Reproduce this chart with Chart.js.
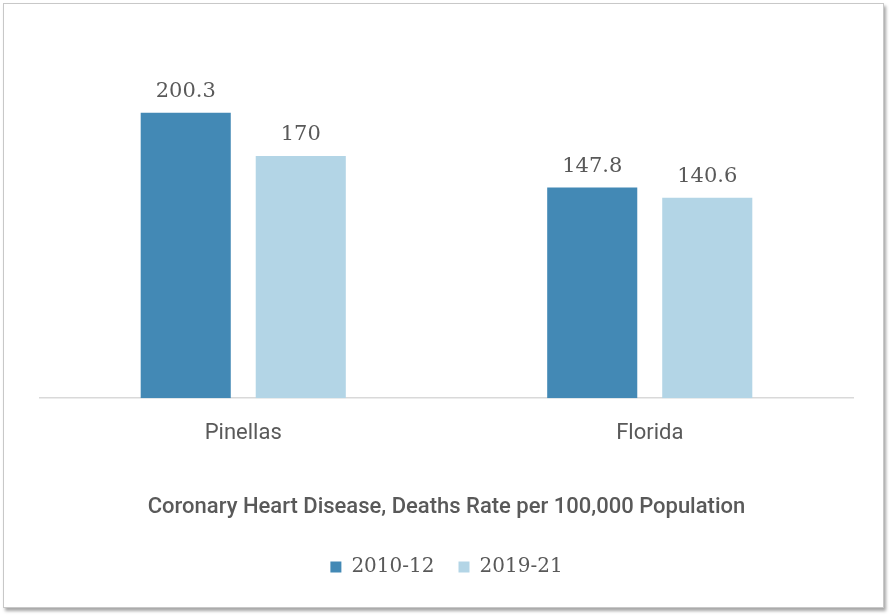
<!DOCTYPE html>
<html>
<head>
<meta charset="utf-8">
<script src="https://cdn.jsdelivr.net/npm/chart.js@4"></script>
<style>
    body { margin: 0; background: #ffffff; }
    .frame {
        position: absolute; left: 3px; top: 3px; width: 879px; height: 603px;
        border: 1px solid #c8c8c8;
        box-shadow: 2px 3px 3px rgba(0,0,0,0.35);
        background: #fff;
    }
    .frame canvas { display: block; }
</style>
</head>
<body>
<div class="frame"><canvas id="heartChart" width="879" height="603"></canvas></div>
<script>
const categories = ['Pinellas', 'Florida'];
const seriesNames = ['2010-12', '2019-21'];
const values2010 = [200.3, 147.8];
const values2019 = [170, 140.6];
const valueLabels2010 = ['200.3', '147.8'];
const valueLabels2019 = ['170', '140.6'];
const chartTitle = 'Coronary Heart Disease, Deaths Rate per 100,000 Population';

// draws the numbers above each bar
const barValues = {
    id: 'barValues',
    afterDatasetsDraw(chart) {
        const ctx = chart.ctx;
        const labelSets = [valueLabels2010, valueLabels2019];
        ctx.save();
        ctx.font = '21px "DejaVu Serif", serif';
        ctx.fillStyle = '#595959';
        ctx.textAlign = 'center';
        ctx.textBaseline = 'alphabetic';
        chart.data.datasets.forEach((ds, i) => {
            chart.getDatasetMeta(i).data.forEach((bar, j) => {
                ctx.fillText(labelSets[i][j], bar.x, bar.y - 16);
            });
        });
        ctx.restore();
    }
};

const ctx = document.getElementById('heartChart').getContext('2d');
new Chart(ctx, {
    type: 'bar',
    data: {
        labels: categories,
        datasets: [
            {
                label: seriesNames[0],
                data: values2010,
                backgroundColor: '#4389b5',
                categoryPercentage: 0.566,
                barPercentage: 0.783
            },
            {
                label: seriesNames[1],
                data: values2019,
                backgroundColor: '#b3d5e6',
                categoryPercentage: 0.566,
                barPercentage: 0.783
            }
        ]
    },
    options: {
        responsive: false,
        animation: false,
        layout: { padding: { left: 36, right: 30, top: 38, bottom: 20 } },
        plugins: {
            legend: {
                position: 'bottom',
                labels: {
                    boxWidth: 11,
                    boxHeight: 11,
                    padding: 24,
                    color: '#595959',
                    font: { family: '"DejaVu Serif", serif', size: 20 }
                }
            },
            tooltip: { enabled: false }
        },
        scales: {
            x: {
                grid: { display: false },
                border: { color: '#d9d9d9', width: 1.5 },
                ticks: {
                    color: '#595959',
                    padding: 14,
                    font: { family: 'Roboto', size: 22 }
                },
                title: {
                    display: true,
                    text: chartTitle,
                    color: '#595959',
                    padding: { top: 34, bottom: 12 },
                    font: { family: 'Roboto', size: 22, weight: '500' }
                }
            },
            y: {
                display: false,
                min: 0,
                max: 250
            }
        }
    },
    plugins: [barValues]
});
</script>
</body>
</html>
